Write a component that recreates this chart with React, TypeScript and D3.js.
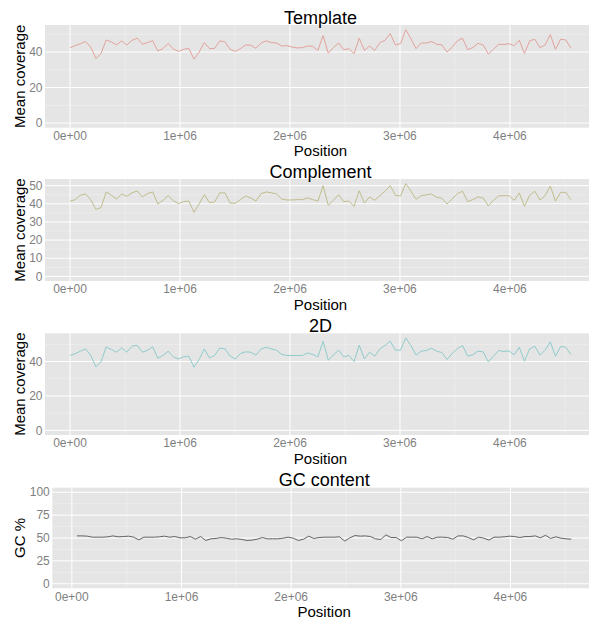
import React from "react";
import * as d3 from "d3";

const BIN = 46958;
const xTickValues = [0, 1e6, 2e6, 3e6, 4e6];
const xTickLabels = ["0e+00", "1e+06", "2e+06", "3e+06", "4e+06"];

const templateCov = [42.5,43.6,44.7,45.9,42.8,36.4,39.1,46.8,45.7,44.0,46.3,44.0,46.6,47.8,44.4,45.3,46.4,40.6,41.9,44.9,41.7,40.4,41.5,42.1,36.0,40.0,45.3,41.9,42.1,46.3,45.7,41.5,40.4,41.9,44.0,43.8,42.1,45.1,46.3,45.3,45.1,43.4,43.6,42.8,42.3,42.5,43.4,43.2,
40.9,49.3,39.4,42.5,45.1,41.3,41.9,39.1,47.8,40.9,43.4,40.9,45.3,46.6,50.4,44.0,44.7,52.6,47.6,41.9,45.1,45.1,45.9,44.4,44.0,40.0,42.8,46.3,47.8,41.3,42.5,44.9,44.0,38.9,41.5,44.4,44.2,44.7,43.6,46.6,39.2,46.3,47.2,42.5,44.0,49.8,41.5,47.2,46.8,42.1];

const complementCov = [41.4,42.3,44.7,45.4,42.3,36.9,37.9,46.5,44.7,42.6,45.4,44.1,46.0,47.1,43.8,45.6,46.5,39.9,41.9,44.5,41.7,40.1,41.2,41.5,35.3,39.9,45.0,40.6,41.0,46.0,46.0,40.4,40.3,42.3,44.3,43.2,41.5,45.6,46.5,46.0,45.4,42.6,42.1,42.1,42.3,42.3,43.2,42.3,41.4,50.0,39.2,41.9,45.0,41.2,41.5,38.6,47.2,40.4,43.8,41.9,44.5,46.9,50.0,44.7,44.3,51.1,47.1,42.5,44.5,44.9,45.4,43.6,43.0,39.9,42.6,45.6,46.9,41.2,42.3,43.8,43.2,38.8,41.9,44.3,44.5,44.5,41.9,46.0,38.6,44.7,46.9,42.1,44.5,49.8,41.5,46.3,46.3,42.3];

const twoDCov = [43.5,44.6,46.0,47.3,43.7,36.9,39.8,48.5,47.0,45.4,47.9,45.4,48.9,49.5,45.4,46.6,48.5,41.9,43.5,46.0,42.7,41.5,42.7,43.1,36.7,41.2,47.3,42.1,43.5,47.9,47.3,43.1,41.5,44.6,45.6,45.4,43.7,47.3,48.3,47.3,46.6,44.1,43.5,43.5,43.5,43.5,45.0,44.1,42.7,51.8,40.8,43.7,46.6,42.7,43.5,40.0,49.5,41.5,45.4,43.1,47.3,49.3,51.8,46.6,46.6,53.7,49.3,43.7,46.0,46.4,47.7,46.0,45.2,41.2,44.6,47.5,49.3,43.1,43.9,46.0,45.6,39.8,43.1,46.4,45.8,46.2,43.9,48.3,40.2,47.3,48.9,43.7,46.6,51.4,43.1,48.7,48.3,44.1];

const gcPercent = [52.3,52.3,52.0,50.9,50.9,50.9,51.3,52.3,51.3,51.6,52.0,50.9,48.0,50.9,50.9,50.9,51.3,52.0,50.9,51.6,50.2,50.2,51.6,48.7,51.6,47.3,49.1,49.5,50.5,49.8,48.7,49.1,48.4,47.3,47.7,48.7,50.5,49.1,49.1,49.1,49.8,50.9,49.8,47.3,48.7,52.0,49.5,50.5,50.9,50.9,50.9,51.3,46.6,50.2,52.7,52.0,52.3,51.6,49.1,48.4,53.4,50.5,50.5,47.0,50.9,50.9,50.9,49.1,51.6,49.1,50.9,50.9,50.5,48.7,52.3,52.3,50.5,48.0,50.9,49.8,47.7,50.9,50.9,51.3,52.0,51.6,50.5,51.6,51.6,52.3,50.2,53.0,49.5,51.3,49.8,49.1,48.7];

const covPositions = templateCov.map((_, i) => i * BIN);
const gcPositions = gcPercent.map((_, i) => (i + 1) * BIN);

type Panel = {
  title: string;
  yLabel: string;
  xs: number[];
  ys: number[];
  yTicks: number[];
  yMinor: number[];
  yDomain?: [number, number];
  color: string;
  width: number;
  left: number;
  top: number;
  bottom: number;
};

const RIGHT = 596;
const FONT = "'Liberation Sans', Arial, Helvetica, sans-serif";

const panels: Panel[] = [
  { title: "Template", yLabel: "Mean coverage", xs: covPositions, ys: templateCov, yTicks: [0, 20, 40], yMinor: [10, 30, 50], color: "#E2A39D", width: 1, left: 45, top: 25, bottom: 127.7 },
  { title: "Complement", yLabel: "Mean coverage", xs: covPositions, ys: complementCov, yTicks: [0, 10, 20, 30, 40, 50], yMinor: [5, 15, 25, 35, 45], color: "#C0BD8C", width: 1, left: 45, top: 179, bottom: 281 },
  { title: "2D", yLabel: "Mean coverage", xs: covPositions, ys: twoDCov, yTicks: [0, 20, 40], yMinor: [10, 30, 50], color: "#90CBCB", width: 1, left: 45, top: 333.3, bottom: 435 },
  { title: "GC content", yLabel: "GC %", xs: gcPositions, ys: gcPercent, yTicks: [0, 25, 50, 75, 100], yMinor: [12.5, 37.5, 62.5, 87.5], yDomain: [0, 100], color: "#555555", width: 0.9, left: 52.3, top: 487.7, bottom: 588.3 },
];

const xMinor = [0.5e6, 1.5e6, 2.5e6, 3.5e6, 4.5e6];

function PanelView({ p }: { p: Panel }) {
  const xmin = d3.min(p.xs)!;
  const xmax = d3.max(p.xs)!;
  const xr = xmax - xmin;
  const x = d3.scaleLinear().domain([xmin - 0.05 * xr, xmax + 0.05 * xr]).range([p.left, RIGHT]);
  const yLim: [number, number] = p.yDomain ?? [0, d3.max(p.ys)!];
  const yr = yLim[1] - yLim[0];
  const y = d3.scaleLinear().domain([yLim[0] - 0.05 * yr, yLim[1] + 0.05 * yr]).range([p.bottom, p.top]);
  const line = d3.line<number>().x((_, i) => x(p.xs[i])).y((d) => y(d));
  const cx = (p.left + RIGHT) / 2;
  const cy = (p.top + p.bottom) / 2;
  return (
    <g>
      <rect x={p.left} y={p.top} width={RIGHT - p.left} height={p.bottom - p.top} fill="#E5E5E5" />
      {p.yMinor.filter((v) => y(v) > p.top).map((v) => (
        <line key={"ym" + v} x1={p.left} x2={RIGHT} y1={y(v)} y2={y(v)} stroke="#F2F2F2" strokeWidth={0.5} />
      ))}
      {xMinor.map((v) => (
        <line key={"xm" + v} x1={x(v)} x2={x(v)} y1={p.top} y2={p.bottom} stroke="#F2F2F2" strokeWidth={0.5} />
      ))}
      {p.yTicks.map((v) => (
        <line key={"yg" + v} x1={p.left} x2={RIGHT} y1={y(v)} y2={y(v)} stroke="#FFFFFF" strokeWidth={1} />
      ))}
      {xTickValues.map((v) => (
        <line key={"xg" + v} x1={x(v)} x2={x(v)} y1={p.top} y2={p.bottom} stroke="#FFFFFF" strokeWidth={1} />
      ))}
      <path d={line(p.ys) ?? ""} fill="none" stroke={p.color} strokeWidth={p.width} />
      {p.yTicks.map((v) => (
        <text key={"yt" + v} x={p.left - 2.5} y={y(v)} dy="0.35em" textAnchor="end" fontSize={12} fill="#7F7F7F" fontFamily={FONT}>{v}</text>
      ))}
      {xTickValues.map((v, i) => (
        <text key={"xt" + v} x={x(v)} y={p.bottom + 12.3} textAnchor="middle" fontSize={12} fill="#7F7F7F" fontFamily={FONT}>{xTickLabels[i]}</text>
      ))}
      <text x={cx} y={p.bottom + 28.5} textAnchor="middle" fontSize={15} fill="#000" fontFamily={FONT}>Position</text>
      <text transform={`translate(25,${cy}) rotate(-90)`} textAnchor="middle" fontSize={15} fill="#000" fontFamily={FONT}>{p.yLabel}</text>
      <text x={cx} y={p.top - 1.5} textAnchor="middle" fontSize={18} fill="#000" fontFamily={FONT}>{p.title}</text>
    </g>
  );
}

export default function App() {
  return (
    <svg width={589} height={624} style={{ position: "absolute", left: 0, top: 0, display: "block", background: "#fff" }}>
      <rect x={0} y={0} width={589} height={624} fill="#FFFFFF" />
      {panels.map((p) => (
        <PanelView key={p.title} p={p} />
      ))}
    </svg>
  );
}
